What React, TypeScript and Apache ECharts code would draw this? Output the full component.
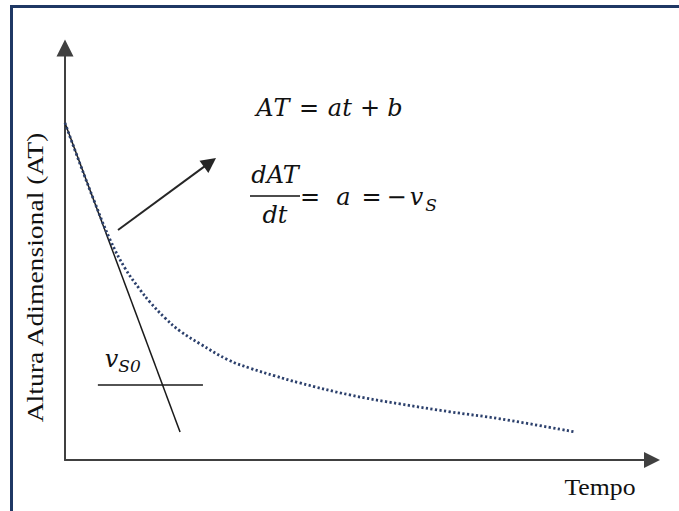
import React, { useEffect, useRef } from "react";
import * as echarts from "echarts";

// Dimensionless height (AT) read along the settling curve over time
const timeValues = [0, 2.5, 5.1, 7.7, 10.2, 12.8, 14.5, 17.0, 19.6, 23.0, 27.8, 31.5, 35.8, 40.0, 48.5, 57.1, 65.6, 74.1, 86.9];
const heightValues = [81.8, 72.1, 62.4, 53.4, 46.6, 41.3, 38.3, 34.5, 31.3, 28.2, 24.3, 22.3, 20.4, 18.7, 15.8, 13.6, 11.7, 10.0, 6.8];

// Initial tangent (slope = -v_S0) and the short horizontal reference segment
const tangentLine = [[0, 81.8], [19.6, 6.8]];
const levelLine = [[5.6, 18.2], [23.5, 18.2]];

// Arrow pointing from the tangent towards the equations
const arrowStart = [9.03, 55.83];
const arrowEnd = [24.7, 72.23];

const xAxisName = "Tempo";
const yAxisName = "Altura Adimensional (AT)";

// Equation pieces: [text, centre x, centre y, font size]
const equationPieces: [string, number, number, number][] = [
  ["A", 265, 108, 24],
  ["T", 281.5, 108, 24],
  ["=", 309, 108, 24],
  ["a", 335, 108, 24],
  ["t", 347, 108, 24],
  ["+", 370, 108, 24],
  ["b", 395, 108, 24],
  ["dAT", 275, 175, 24],
  ["dt", 275, 215, 24],
  ["=", 310, 197, 24],
  ["a", 343.5, 197, 24],
  ["=", 371.5, 197, 24],
  ["\u2212", 396.5, 197, 24],
  ["v", 416.5, 197, 24],
  ["S", 431, 204.5, 17],
  ["v", 111.5, 359, 24],
  ["S0", 129.5, 365.5, 17],
];

const MATH_FONT = '"DejaVu Serif", "Liberation Serif", serif';
const TEXT_FONT = '"Liberation Serif", "Times New Roman", serif';

export default function App() {
  const ref = useRef<HTMLDivElement>(null);

  useEffect(() => {
    if (!ref.current) return;
    const chart = echarts.init(ref.current, undefined, { renderer: "svg" });

    const axisLine = (size: number[]) => ({
      show: true,
      symbol: ["none", "triangle"],
      symbolSize: size,
      lineStyle: { color: "#404040", width: 2 },
    });

    const graphics: any[] = [
      {
        type: "rect",
        shape: { x: 11.5, y: 6.5, width: 720, height: 560 },
        style: { fill: "none", stroke: "#1f3864", lineWidth: 3 },
        z: 10,
      },
      {
        type: "text",
        x: 600,
        y: 487,
        scaleX: 1.12,
        style: {
          text: xAxisName,
          font: `23px ${TEXT_FONT}`,
          fill: "#111",
          textAlign: "center",
          textVerticalAlign: "middle",
        },
      },
      {
        type: "text",
        x: 35,
        y: 277.5,
        rotation: Math.PI / 2,
        scaleX: 1.2,
        style: {
          text: yAxisName,
          font: `23px ${TEXT_FONT}`,
          fill: "#111",
          textAlign: "center",
          textVerticalAlign: "middle",
        },
      },
      {
        type: "line",
        shape: { x1: 250, y1: 196, x2: 300, y2: 196 },
        style: { stroke: "#111", lineWidth: 1.5 },
      },
      ...equationPieces.map(([text, x, y, size]) => ({
        type: "text",
        x,
        y,
        style: {
          text,
          font: `italic ${size}px ${MATH_FONT}`,
          fill: "#111",
          textAlign: "center",
          textVerticalAlign: "middle",
        },
      })),
    ];

    chart.setOption({
      animation: false,
      backgroundColor: "#ffffff",
      grid: { left: 65, right: 27, top: 48, bottom: 51 },
      xAxis: {
        type: "value",
        min: 0,
        max: 100,
        axisLine: axisLine([16, 16]),
        axisTick: { show: false },
        axisLabel: { show: false },
        splitLine: { show: false },
      },
      yAxis: {
        type: "value",
        min: 0,
        max: 100,
        axisLine: { ...axisLine([17, 17]), onZero: false },
        axisTick: { show: false },
        axisLabel: { show: false },
        splitLine: { show: false },
      },
      series: [
        {
          type: "line",
          data: timeValues.map((t, i) => [t, heightValues[i]]),
          smooth: 0.4,
          showSymbol: false,
          silent: true,
          lineStyle: { color: "#2c406c", width: 2.8, type: [2.2, 2.4] },
          z: 3,
        },
        {
          type: "line",
          data: tangentLine,
          showSymbol: false,
          silent: true,
          lineStyle: { color: "#1a1a1a", width: 1.5 },
          z: 2,
        },
        {
          type: "line",
          data: levelLine,
          showSymbol: false,
          silent: true,
          lineStyle: { color: "#1a1a1a", width: 1.5 },
          markLine: {
            silent: true,
            symbol: ["none", "triangle"],
            symbolSize: 15,
            label: { show: false },
            lineStyle: { color: "#262626", width: 2, type: "solid" },
            data: [[{ coord: arrowStart }, { coord: arrowEnd }]],
          },
        },
      ],
      graphic: graphics,
    });

    return () => chart.dispose();
  }, []);

  return (
    <div
      ref={ref}
      style={{ position: "fixed", left: 0, top: 0, width: 679, height: 511, background: "#fff" }}
    />
  );
}
